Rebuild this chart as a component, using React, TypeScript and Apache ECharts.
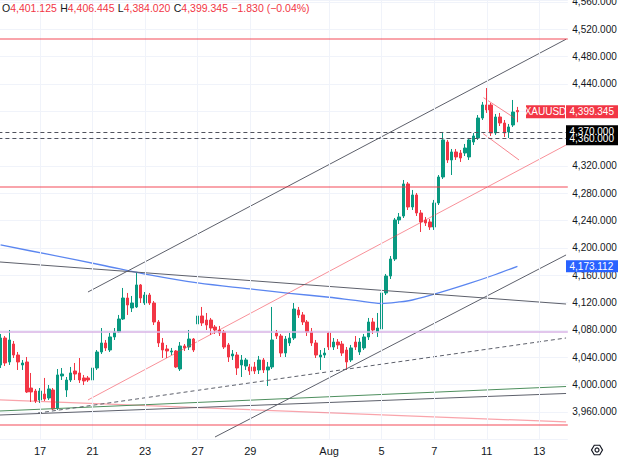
import React, { useEffect, useRef } from "react";
import * as echarts from "echarts";

// [open, close, low, high] — 4H candles
const candles: number[][] = [
  [4028.8, 4068.3, 4024.4, 4074.2],
  [4068.3, 4031.7, 4027.3, 4071.2],
  [4033.2, 4065.4, 4028.8, 4080.0],
  [4059.5, 4043.4, 4039.0, 4063.9],
  [4043.4, 4033.2, 4021.5, 4047.8],
  [4028.8, 4031.7, 4021.5, 4036.1],
  [4033.2, 3989.3, 3987.8, 4040.5],
  [3995.1, 3989.3, 3974.6, 4017.1],
  [3990.7, 3976.1, 3973.2, 3993.7],
  [3977.6, 3990.7, 3973.2, 3995.1],
  [3986.3, 3979.0, 3976.1, 4009.8],
  [3980.5, 3993.7, 3977.6, 3999.5],
  [3992.2, 3964.4, 3962.9, 3995.1],
  [3965.9, 4014.2, 3962.9, 4022.9],
  [4012.7, 4015.6, 4006.8, 4024.4],
  [3992.2, 4006.8, 3982.0, 4011.2],
  [4006.8, 4017.1, 4003.9, 4025.9],
  [4020.0, 4015.6, 4006.8, 4031.7],
  [4017.1, 4006.8, 4002.4, 4039.0],
  [4009.8, 4005.4, 3999.5, 4014.2],
  [4009.8, 4006.8, 4003.9, 4012.7],
  [4006.8, 4024.4, 3999.5, 4025.9],
  [4024.4, 4047.8, 4021.5, 4050.7],
  [4047.8, 4061.0, 4044.9, 4082.9],
  [4061.0, 4053.7, 4049.3, 4065.4],
  [4050.7, 4069.8, 4047.8, 4075.6],
  [4069.8, 4077.1, 4065.4, 4082.9],
  [4077.1, 4096.1, 4075.6, 4102.0],
  [4096.1, 4126.8, 4094.6, 4141.5],
  [4126.8, 4116.6, 4102.0, 4134.2],
  [4112.2, 4119.5, 4106.3, 4129.8],
  [4113.7, 4145.9, 4112.2, 4164.9],
  [4145.9, 4126.8, 4119.5, 4147.3],
  [4119.5, 4131.2, 4116.6, 4135.6],
  [4131.2, 4119.5, 4116.6, 4134.2],
  [4119.5, 4091.7, 4087.3, 4122.4],
  [4091.7, 4061.0, 4055.1, 4094.6],
  [4061.0, 4050.7, 4039.0, 4068.3],
  [4052.2, 4049.3, 4039.0, 4058.1],
  [4047.8, 4049.3, 4043.4, 4053.7],
  [4049.3, 4025.9, 4024.4, 4050.7],
  [4022.9, 4056.6, 4020.0, 4062.4],
  [4056.6, 4053.7, 4049.3, 4059.5],
  [4055.1, 4066.8, 4050.7, 4080.0],
  [4066.8, 4050.7, 4047.8, 4068.3],
  [4088.8, 4100.5, 4084.4, 4115.1],
  [4100.5, 4090.3, 4085.9, 4113.7],
  [4094.6, 4087.3, 4080.0, 4104.9],
  [4094.6, 4082.9, 4072.7, 4097.6],
  [4084.4, 4080.0, 4074.2, 4087.3],
  [4080.0, 4075.6, 4071.2, 4085.9],
  [4077.1, 4055.1, 4052.2, 4080.0],
  [4058.1, 4040.5, 4033.2, 4061.0],
  [4042.0, 4044.9, 4036.1, 4050.7],
  [4043.4, 4024.4, 4014.2, 4047.8],
  [4028.8, 4036.1, 4011.2, 4043.4],
  [4027.3, 4036.1, 4021.5, 4039.0],
  [4025.9, 4020.0, 4014.2, 4030.3],
  [4025.9, 4020.0, 4015.6, 4033.2],
  [4021.5, 4036.1, 4015.6, 4042.0],
  [4036.1, 4021.5, 4017.1, 4039.0],
  [4021.5, 4025.9, 3998.1, 4033.2],
  [4025.9, 4065.4, 4022.9, 4113.7],
  [4075.6, 4071.2, 4066.8, 4080.0],
  [4071.2, 4046.3, 4040.5, 4074.2],
  [4046.3, 4066.8, 4040.5, 4071.2],
  [4061.0, 4068.3, 4056.6, 4075.6],
  [4068.3, 4110.7, 4065.4, 4119.5],
  [4109.3, 4102.0, 4097.6, 4113.7],
  [4102.0, 4091.7, 4087.3, 4106.3],
  [4091.7, 4077.1, 4071.2, 4094.6],
  [4077.1, 4061.0, 4056.6, 4082.9],
  [4061.0, 4043.4, 4039.0, 4065.4],
  [4040.5, 4043.4, 4021.5, 4050.7],
  [4043.4, 4046.3, 4039.0, 4053.7],
  [4075.6, 4055.1, 4050.7, 4077.1],
  [4055.1, 4062.4, 4050.7, 4068.3],
  [4062.4, 4058.1, 4052.2, 4066.8],
  [4059.5, 4046.3, 4042.0, 4063.9],
  [4050.7, 4033.2, 4021.5, 4055.1],
  [4036.1, 4053.7, 4033.2, 4058.1],
  [4062.4, 4055.1, 4050.7, 4071.2],
  [4047.8, 4062.4, 4043.4, 4068.3],
  [4053.7, 4069.8, 4050.7, 4074.2],
  [4069.8, 4091.7, 4065.4, 4097.6],
  [4091.7, 4080.0, 4074.2, 4097.6],
  [4077.1, 4082.9, 4069.8, 4104.9],
  [4081.5, 4134.2, 4078.5, 4137.1],
  [4134.2, 4159.0, 4131.2, 4162.0],
  [4159.0, 4183.9, 4154.6, 4188.3],
  [4183.9, 4241.0, 4181.0, 4243.9],
  [4241.0, 4245.4, 4235.1, 4251.2],
  [4246.8, 4293.7, 4243.9, 4299.5],
  [4293.7, 4260.0, 4255.6, 4296.6],
  [4260.0, 4277.6, 4255.6, 4284.9],
  [4277.6, 4251.2, 4246.8, 4280.5],
  [4251.2, 4238.1, 4223.4, 4255.6],
  [4241.0, 4236.6, 4232.2, 4245.4],
  [4238.1, 4230.7, 4226.4, 4242.4],
  [4230.7, 4265.9, 4226.4, 4270.3],
  [4265.9, 4303.9, 4262.9, 4306.8],
  [4303.9, 4358.1, 4301.0, 4369.8],
  [4355.1, 4328.8, 4324.4, 4358.1],
  [4328.8, 4340.5, 4306.8, 4344.9],
  [4340.5, 4333.2, 4328.8, 4344.9],
  [4339.0, 4331.7, 4325.9, 4343.4],
  [4339.0, 4346.3, 4334.6, 4352.2],
  [4333.2, 4358.1, 4328.8, 4361.0],
  [4355.1, 4363.9, 4350.7, 4368.3],
  [4361.0, 4390.2, 4358.1, 4394.6],
  [4390.2, 4409.3, 4387.3, 4413.7],
  [4409.3, 4402.0, 4397.6, 4434.1],
  [4409.3, 4368.3, 4363.9, 4412.2],
  [4368.3, 4391.7, 4365.4, 4396.1],
  [4391.7, 4382.9, 4378.5, 4397.6],
  [4382.9, 4368.3, 4362.4, 4387.3],
  [4369.8, 4377.1, 4361.0, 4381.5],
  [4380.0, 4399.0, 4377.1, 4416.6],
  [4401.125, 4399.345, 4384.02, 4406.445],
];

const slotCount = 130; // candles + empty right margin
const tickIndex = [9, 21, 33, 45, 57, 75, 87, 99, 111, 123];
const tickLabels = ["17", "21", "23", "27", "29", "Aug", "5", "7", "11", "13"];

const yMin = 3920;
const yMax = 4562.9;
const yStep = 40;

// moving average, [candle index, price]
const maPoints: number[][] = [
  [0, 4204.4], [11, 4190.5], [23, 4175.1], [34, 4160.5], [45, 4148.8],
  [57, 4140.1], [66, 4133.7], [75, 4127.9], [81, 4123.2], [87, 4118.8],
  [91, 4121.0], [94, 4123.9], [100, 4134.2], [107, 4148.1], [113, 4161.2],
  [118, 4173.112],
];

// horizontal levels
const redLevels = [4506, 4290, 3941];
const dashedLevels = [4370, 4360];
const purpleLevels = [4078];

// drawn trend lines, [index, price] endpoints
const pinkLow = [[-0.14, 3977.6], [129.1, 3945.4]];
const greenLine = [[-0.14, 3961.5], [129.1, 3997.3]];
const greyLow = [[-0.14, 3955.6], [129.1, 3987.1]];
const dashedRise = [[8.54, 3958.5], [129.1, 4068.3]];
const channelUpper = [[19.95, 4135.6], [129.1, 4505.5]];
const channelLower = [[48.95, 3923.4], [129.1, 4189.8]];
const channelMid = [[19.95, 3977.6], [129.1, 4350.7]];
const greyFalling = [[-0.14, 4179.5], [129.1, 4118.0]];
const flagUpper = [[110.25, 4420.0], [117.44, 4389.8]];
const flagLower = [[110.14, 4367.6], [118.36, 4328.8]];

const symbolName = "XAUUSD";
const change = -1.83;
const changePct = -0.04;

const FONT = "'Liberation Sans', Arial, sans-serif";
const UP = "#089981";
const DOWN = "#F23645";
const TXT = "#131722";

const fmt = (v: number, d = 3) =>
  v.toLocaleString("en-US", { minimumFractionDigits: d, maximumFractionDigits: d }).replace("-", "\u2212");

export default function App() {
  const ref = useRef<HTMLDivElement>(null);

  useEffect(() => {
    document.body.style.margin = "0";
    const chart = echarts.init(ref.current!, null, { renderer: "svg" });

    const categories: string[] = [];
    for (let i = 0; i < slotCount; i++) {
      const k = tickIndex.indexOf(i);
      categories.push(k >= 0 ? tickLabels[k] : "");
    }

    const seg = (data: number[][], color: string, width = 1, type: any = "solid") => ({
      type: "line",
      xAxisIndex: 1,
      yAxisIndex: 0,
      data,
      symbol: "none",
      silent: true,
      z: 4,
      lineStyle: { color, width, type },
    });

    const gridLeft = -1.6;
    const gridWidth = 569.4;
    const gridHeight = 439.33;

    chart.setOption({
      animation: false,
      backgroundColor: "#ffffff",
      grid: { left: gridLeft, top: 0, width: gridWidth, height: gridHeight, containLabel: false, outerBoundsMode: "none" },
      xAxis: [
        {
          type: "category",
          data: categories,
          boundaryGap: true,
          axisLine: { show: false },
          axisTick: { show: false },
          splitLine: { show: false },
          axisLabel: { interval: 0, color: TXT, fontSize: 11, fontFamily: FONT, margin: 6 },
        },
        { type: "value", min: -0.5, max: slotCount - 0.5, show: false },
      ],
      yAxis: {
        type: "value",
        position: "right",
        min: yMin,
        max: yMax,
        interval: yStep,
        scale: true,
        axisLine: { show: false },
        axisTick: { show: false },
        splitLine: { show: true, lineStyle: { color: "#F0F3FA", width: 1 } },
        axisLabel: {
          margin: 4.5,
          color: TXT,
          fontSize: 10,
          fontFamily: FONT,
          formatter: (v: number) => {
            const r = Math.abs(v % yStep);
            if ((r > 0.01 && r < yStep - 0.01) || v <= yMin + 0.01) return "";
            return fmt(v);
          },
        },
      },
      series: [
        {
          type: "line",
          xAxisIndex: 1,
          data: [[-0.5, yMin]],
          symbol: "none",
          silent: true,
          z: 0,
          lineStyle: { opacity: 0 },
          markLine: {
            silent: true,
            symbol: ["none", "none"],
            label: { show: false },
            lineStyle: { color: "#F0F3FA", width: 1, type: "solid" },
            data: tickIndex.map((i) => ({ xAxis: i })),
          },
        },
        {
          type: "candlestick",
          data: candles,
          barWidth: 3,
          z: 2,
          itemStyle: { color: UP, color0: DOWN, borderColor: UP, borderColor0: DOWN, borderWidth: 1 },
          markLine: {
            silent: true,
            symbol: ["none", "none"],
            label: { show: false },
            data: [
              ...redLevels.map((v) => ({ yAxis: v, lineStyle: { color: "rgba(242,54,69,0.45)", width: 1.8, type: "solid" } })),
              ...dashedLevels.map((v) => ({ yAxis: v, lineStyle: { color: "#50535e", width: 1, type: [4, 3] } })),
              ...purpleLevels.map((v) => ({ yAxis: v, lineStyle: { color: "#D9B3E6", width: 1.5, type: "solid" } })),
            ],
          },
        },
        { ...seg(maPoints, "#5B86F0", 1.3), smooth: 0.35, z: 3 },
        seg(pinkLow, "rgba(242,54,69,0.45)", 1.2),
        seg(greenLine, "#4E8F5E", 1),
        seg(greyLow, "#5d606b", 1),
        seg(dashedRise, "#5d606b", 1, [4, 3]),
        seg(channelUpper, "#5d606b", 1),
        seg(channelLower, "#5d606b", 1),
        seg(channelMid, "rgba(242,54,69,0.55)", 1),
        seg(greyFalling, "#5d606b", 1),
        seg(flagUpper, "rgba(242,54,69,0.6)", 1),
        seg(flagLower, "rgba(242,54,69,0.6)", 1),
      ],
    });

    const yP = (v: number) => chart.convertToPixel({ yAxisIndex: 0 } as any, v) as number;
    const xR = chart.convertToPixel({ xAxisIndex: 1 } as any, slotCount - 0.5) as number;
    const axisX = xR - 1.8;
    const last = candles[candles.length - 1];
    const lastPrice = last[1];
    const maLast = maPoints[maPoints.length - 1][1];

    const box = (v: number, text: string, fill: string, h: number) => [
      { type: "rect", z: 100, shape: { x: axisX, y: yP(v) - h / 2, width: 52, height: h }, style: { fill } },
      {
        type: "text",
        z: 101,
        x: axisX + 3.5,
        y: yP(v),
        style: { text, fill: "#ffffff", font: `10px ${FONT}`, verticalAlign: "middle", align: "left" },
      },
    ];

    const hexPts: number[][] = [];
    for (let k = 0; k < 6; k++) {
      const a = (Math.PI / 3) * k;
      hexPts.push([597 + 5.5 * Math.cos(a), 450 + 5.5 * Math.sin(a)]);
    }

    const header =
      `{k|O}{v|${fmt(last[0])}} {k|H}{v|${fmt(last[3])}} {k|L}{v|${fmt(last[2])}} {k|C}{v|${fmt(last[1])}} ` +
      `{v|${fmt(change)} (${fmt(changePct, 2)}%)}`;

    chart.setOption({
      graphic: [
        ...box(dashedLevels[0], fmt(dashedLevels[0]), "#000000", 13),
        ...box(dashedLevels[1], fmt(dashedLevels[1]), "#000000", 13),
        ...box(maLast, fmt(maLast), "#2962FF", 12),
        ...box(lastPrice, fmt(lastPrice), DOWN, 13),
        {
          type: "rect",
          z: 100,
          shape: { x: axisX - 40, y: yP(lastPrice) - 6.5, width: 39, height: 13 },
          style: { fill: DOWN },
        },
        {
          type: "text",
          z: 101,
          x: axisX - 20.5,
          y: yP(lastPrice),
          style: { text: symbolName, fill: "#ffffff", font: `10px ${FONT}`, verticalAlign: "middle", align: "center" },
        },
        {
          type: "text",
          z: 101,
          x: 2,
          y: 8,
          style: {
            text: header,
            verticalAlign: "middle",
            align: "left",
            rich: {
              k: { fill: TXT, fontSize: 10.5, fontFamily: FONT },
              v: { fill: DOWN, fontSize: 10.5, fontFamily: FONT },
            },
          },
        },
        {
          type: "polygon",
          z: 101,
          shape: { points: hexPts },
          style: { fill: "none", stroke: TXT, lineWidth: 1.2 },
        },
        {
          type: "circle",
          z: 101,
          shape: { cx: 597, cy: 450, r: 2 },
          style: { fill: "none", stroke: TXT, lineWidth: 1.2 },
        },
      ],
    });

    return () => chart.dispose();
  }, []);

  return <div ref={ref} style={{ position: "fixed", left: 0, top: 0, width: 619, height: 461 }} />;
}
